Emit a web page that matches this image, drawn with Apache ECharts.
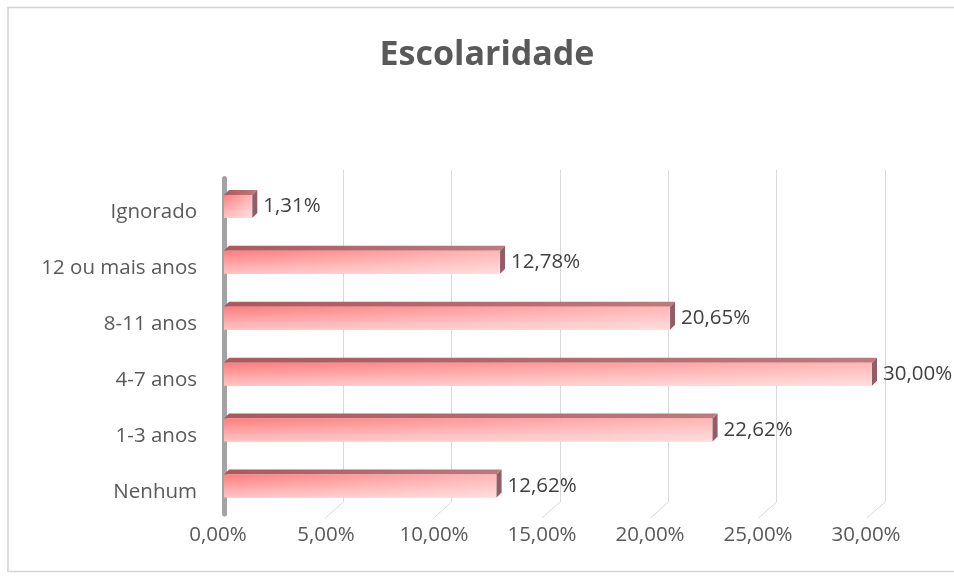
<!DOCTYPE html>
<html>
<head>
<meta charset="utf-8">
<script src="https://cdn.jsdelivr.net/npm/echarts@6/dist/echarts.min.js"></script>
<style>
  html, body { margin: 0; padding: 0; background: #ffffff; }
  #chart { width: 954px; height: 576px; }
</style>
</head>
<body>
<div id="chart"></div>
<script>
// Escolaridade — share of cases by years of schooling (bottom to top)
const categories = ['Nenhum', '1-3 anos', '4-7 anos', '8-11 anos', '12 ou mais anos', 'Ignorado'];
const shares = [12.62, 22.62, 30.00, 20.65, 12.78, 1.31];
const tickValues = [0, 5, 10, 15, 20, 25, 30];

const axisMin = tickValues[0];
const axisMax = tickValues[tickValues.length - 1];
const tickStep = tickValues[1] - tickValues[0];

const FONT = '"Open Sans", "Noto Sans", sans-serif';
const fmtPct = v => v.toFixed(2).replace('.', ',') + '%';

const chart = echarts.init(document.getElementById('chart'), null, { renderer: 'canvas' });

// colours for the 3D-looking bars
const frontGrad = () => new echarts.graphic.LinearGradient(0, 0, 1, 0, [
  { offset: 0, color: '#ff7d7d' },
  { offset: 1, color: '#ffb6b6' }
]);
const shineGrad = () => new echarts.graphic.LinearGradient(0, 0, 0, 1, [
  { offset: 0, color: 'rgba(255,255,255,0)' },
  { offset: 1, color: 'rgba(255,255,255,0.55)' }
]);
const topGrad = () => new echarts.graphic.LinearGradient(0, 0, 1, 0, [
  { offset: 0, color: '#b0565a' },
  { offset: 1, color: '#c0797c' }
]);

function renderBar(params, api) {
  const v = api.value(0);
  const c = api.value(1);
  const a = api.coord([0, c]);
  const b = api.coord([v, c]);
  const x0 = a[0], x1 = b[0], yc = a[1];
  const h = 23, d = 5;
  const yT = yc - h / 2;
  return {
    type: 'group',
    children: [
      { type: 'polygon', shape: { points: [[x0, yT], [x1, yT], [x1 + d, yT - d], [x0 + d, yT - d]] },
        style: { fill: topGrad() } },
      { type: 'rect', shape: { x: x0, y: yT, width: x1 - x0, height: h }, style: { fill: frontGrad() } },
      { type: 'rect', shape: { x: x0, y: yT, width: x1 - x0, height: h }, style: { fill: shineGrad() } },
      { type: 'polygon', shape: { points: [[x1, yT], [x1 + d, yT - d], [x1 + d, yT + h - d], [x1, yT + h]] },
        style: { fill: '#8f5f66' } },
      { type: 'text', style: { x: x1 + d + 6, y: yc, text: fmtPct(v), fill: '#404040',
        fontSize: 20.5, fontFamily: FONT, verticalAlign: 'middle', align: 'left' } }
    ]
  };
}

// short receding floor lines under each back-wall gridline
function renderFloor(params, api) {
  const p = api.coord([api.value(0), 0]);
  return { type: 'line', shape: { x1: p[0], y1: p[1], x2: p[0] - 18, y2: p[1] + 16 },
    style: { stroke: '#d9d9d9', lineWidth: 1 } };
}

const catBandTop = 178.5, catBandHeight = 335.4;

chart.setOption({
  animation: false,
  backgroundColor: '#ffffff',
  graphic: [
    { type: 'rect', shape: { x: 8, y: 7.5, width: 956, height: 564 },
      style: { fill: 'none', stroke: '#d4d4d4', lineWidth: 1.5 }, z: -10 },
    { type: 'text', x: 487, y: 55, style: { text: 'Escolaridade', fill: '#595959',
      fontSize: 34, fontWeight: 'bold', fontFamily: FONT, align: 'center', verticalAlign: 'middle' } }
  ],
  grid: [
    // bars
    { left: 224, top: catBandTop, width: 648, height: catBandHeight },
    // back wall gridlines
    { left: 235, top: 170, width: 650, height: 332 },
    // value tick labels
    { left: 218, top: 170, width: 648, height: 349 },
    // category labels
    { left: 224, top: catBandTop + 6, width: 648, height: catBandHeight }
  ],
  xAxis: [
    { gridIndex: 0, type: 'value', min: axisMin, max: axisMax, interval: tickStep,
      show: false },
    { gridIndex: 1, type: 'value', min: axisMin, max: axisMax, interval: tickStep,
      axisLine: { show: false }, axisTick: { show: false }, axisLabel: { show: false },
      splitLine: { show: true, showMinLine: false, lineStyle: { color: '#d9d9d9', width: 1 } } },
    { gridIndex: 2, type: 'value', min: axisMin, max: axisMax, interval: tickStep,
      axisLine: { show: false }, axisTick: { show: false }, splitLine: { show: false },
      axisLabel: { margin: 6, color: '#595959', fontSize: 20.5, fontFamily: FONT, formatter: v => fmtPct(v) } },
    { gridIndex: 3, type: 'value', min: axisMin, max: axisMax, show: false }
  ],
  yAxis: [
    { gridIndex: 0, type: 'category', data: categories,
      axisLine: { show: true, lineStyle: { color: '#a3a3a3', width: 5 } },
      axisTick: { show: false }, axisLabel: { show: false }, splitLine: { show: false } },
    { gridIndex: 1, type: 'value', min: 0, max: 1, show: false },
    { gridIndex: 2, type: 'value', min: 0, max: 1, show: false },
    { gridIndex: 3, type: 'category', data: categories,
      axisLine: { show: false }, axisTick: { show: false }, splitLine: { show: false },
      axisLabel: { margin: 27, color: '#595959', fontSize: 20.5, fontFamily: FONT } }
  ],
  series: [
    { type: 'custom', xAxisIndex: 1, yAxisIndex: 1, renderItem: renderFloor,
      data: tickValues.filter(t => t > axisMin).map(t => [t]), silent: true, z: 1 },
    { type: 'custom', xAxisIndex: 0, yAxisIndex: 0, renderItem: renderBar,
      data: shares.map((v, i) => [v, i]), z: 5 }
  ]
});
</script>
</body>
</html>
